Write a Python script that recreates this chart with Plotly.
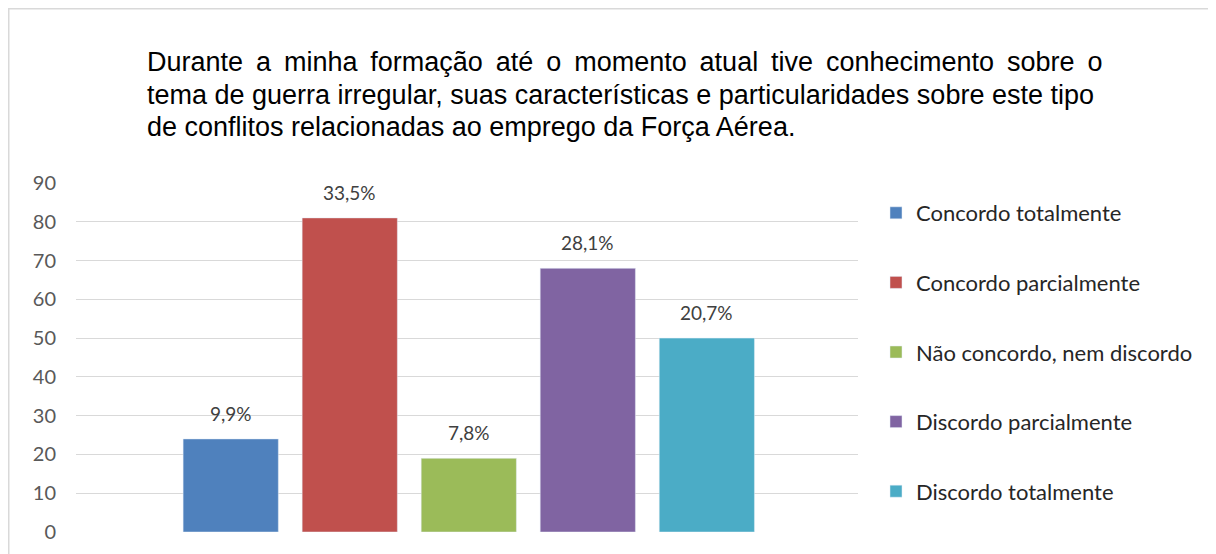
import plotly.graph_objects as go

categories = ["Concordo totalmente", "Concordo parcialmente", "Não concordo, nem discordo",
              "Discordo parcialmente", "Discordo totalmente"]
values = [24, 81, 19, 68, 50]
pct_labels = ["9,9%", "33,5%", "7,8%", "28,1%", "20,7%"]
colors = ["#4F81BD", "#C0504D", "#9BBB59", "#8064A2", "#4BACC6"]
title_lines = [
    "Durante a minha formação até o momento atual tive conhecimento sobre o",
    "tema de guerra irregular, suas características e particularidades sobre este tipo",
    "de conflitos relacionadas ao emprego da Força Aérea.",
]
y_ticks = list(range(0, 100, 10))

O = 8  # page body margin
W, H = 1216 - O, 554 - O
L, R, T, B = 76 - O, 858 - O, 183 - O, 532 - O

fig = go.Figure()
for i, (c, v, col) in enumerate(zip(categories, values, colors)):
    fig.add_trace(go.Bar(x=[c], y=[v], name=c, marker_color=col, width=0.8,
                         legendgroup=str(i), hoverinfo="skip"))
    fig.add_annotation(x=c, y=v, xref="x", yref="y", text=pct_labels[i], showarrow=False,
                       yanchor="bottom", yshift=12,
                       font=dict(family="Lato", size=19, color="#404040"))

def py(p):
    return (B - (p - O)) / (B - T)

def px(p):
    return ((p - O) - L) / (R - L)

# first line is justified in the original: widen word gaps with thin spaces
justified = [title_lines[0].replace(" ", " \u2009"), title_lines[1], title_lines[2]]
for line, ypix in zip(justified, [62, 95, 127]):
    fig.add_annotation(x=px(145), y=py(ypix), xref="paper", yref="paper", text=line,
                       showarrow=False, xanchor="left", yanchor="middle",
                       font=dict(family="Liberation Sans", size=27, color="#000000"))

fig.add_shape(type="rect", xref="paper", yref="paper",
              x0=px(O + 0.75), x1=px(1240), y0=py(O + 0.75), y1=py(600),
              line=dict(color="#D9D9D9", width=1.5), fillcolor="rgba(0,0,0,0)", layer="below")

fig.update_layout(
    width=W, height=H,
    margin=dict(l=L, r=W - R, t=T, b=H - B, autoexpand=False),
    paper_bgcolor="white", plot_bgcolor="white",
    barmode="overlay",
    showlegend=True,
    legend=dict(x=px(876), y=py(192), xanchor="left", yanchor="top",
                traceorder="grouped", tracegroupgap=38,
                font=dict(family="Lato", size=22, color="#262626"),
                bgcolor="rgba(0,0,0,0)"),
    xaxis=dict(range=[-1.30, 5.27], showticklabels=False, showgrid=False,
               zeroline=False, showline=False, ticks=""),
    yaxis=dict(range=[0, 90], tickvals=y_ticks, showgrid=True, gridcolor="#D9D9D9",
               gridwidth=1.3, zeroline=False, showline=False, ticks="",
               ticklabelstandoff=19,
               tickfont=dict(family="Lato", size=20, color="#595959")),
)

fig.write_html("out.html")
